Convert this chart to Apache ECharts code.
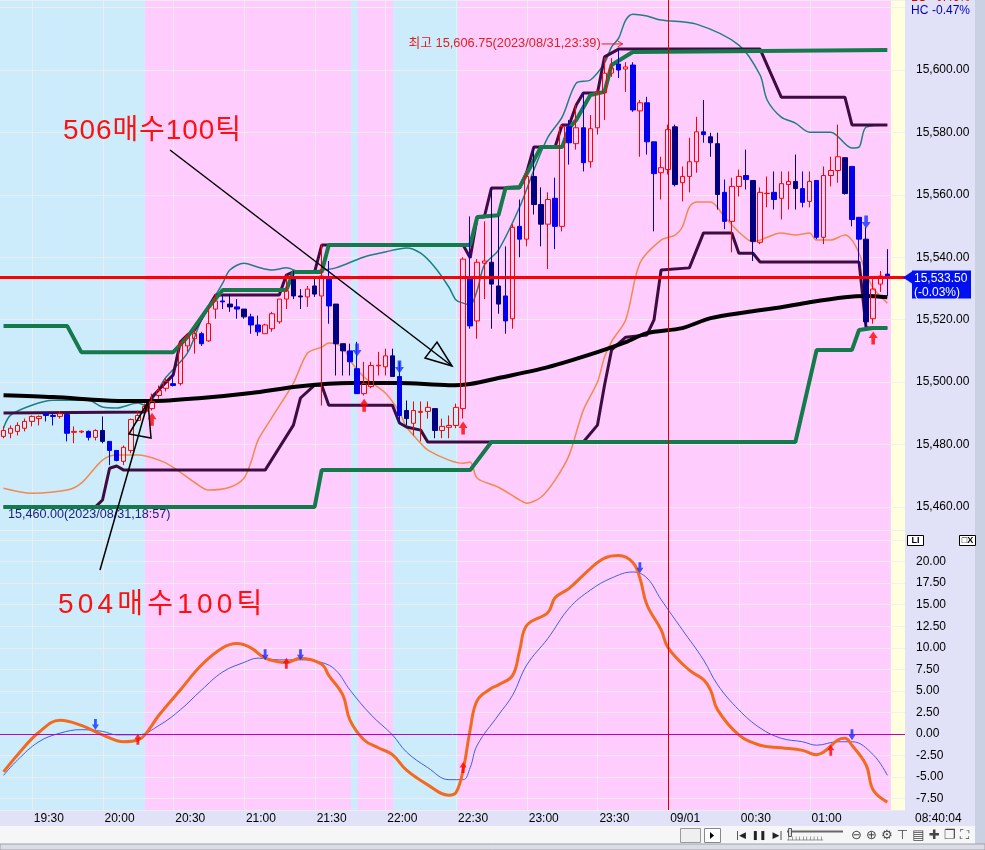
<!DOCTYPE html>
<html>
<head>
<meta charset="utf-8">
<script src="https://cdn.jsdelivr.net/npm/echarts@6.0.0/dist/echarts.min.js"></script>
<style>
html,body{margin:0;padding:0;background:#fff;}
#c{width:985px;height:850px;background:#e1e1f7;}
</style>
</head>
<body>
<div id="c"></div>
<script>
// ================= DATA =================
const startMinute = 19 * 60 + 18, barMinutes = 3, slotCount = 128;
const categories = [];
for (let k = 0; k < slotCount; k++) {
  const m = (startMinute + barMinutes * k) % 1440;
  categories.push(String(Math.floor(m / 60)).padStart(2, '0') + ':' + String(m % 60).padStart(2, '0'));
}
const xTickLabels = ['19:30','20:00','20:30','21:00','21:30','22:00','22:30','23:00','23:30','00:00','00:30','01:00'];
const dateLabels = { '00:00': '09/01' };

// [open, close, low, high]
const candles = [
[15482.6,15484.5,15482.0,15485.8],[15483.6,15485.2,15482.0,15486.1],[15484.2,15486.1,15482.9,15487.1],[15485.2,15487.4,15484.2,15488.3],
[15487.4,15489.0,15485.8,15489.3],[15488.3,15489.0,15486.1,15489.3],[15489.9,15489.3,15487.4,15490.2],[15489.3,15489.0,15486.1,15489.9],
[15489.0,15489.9,15488.3,15490.6],[15489.6,15483.6,15481.0,15489.9],[15483.9,15484.2,15480.4,15485.8],[15484.0,15484.25,15483.6,15484.5],
[15484.2,15482.3,15481.3,15484.5],[15482.3,15484.5,15481.3,15484.9],[15484.5,15481.0,15480.4,15489.0],[15481.0,15478.1,15473.4,15481.0],
[15478.1,15474.9,15474.6,15478.1],[15474.6,15479.1,15473.4,15479.7],[15478.1,15488.0,15477.2,15488.3],[15487.7,15489.3,15487.4,15490.9],
[15490.6,15492.2,15489.9,15493.1],[15491.5,15493.8,15490.9,15496.3],[15495.7,15497.3,15494.7,15498.9],[15498.0,15500.2,15497.0,15501.1],
[15499.5,15498.9,15498.6,15502.7],[15499.5,15512.3,15498.9,15513.2],[15511.6,15514.8,15509.7,15515.5],[15513.9,15515.5,15509.1,15517.1],
[15515.5,15512.3,15511.6,15516.1],[15513.2,15518.7,15512.9,15524.4],[15523.4,15526.0,15520.3,15528.2],[15526.0,15525.7,15523.4,15527.6],
[15525.0,15524.1,15522.5,15528.2],[15524.1,15523.4,15520.3,15526.6],[15523.4,15520.9,15520.3,15523.4],[15520.9,15518.3,15515.5,15521.9],
[15518.3,15516.1,15514.8,15521.3],[15515.5,15518.3,15515.5,15518.7],[15517.1,15521.9,15516.1,15522.5],[15519.3,15526.6,15518.7,15526.6],
[15526.6,15529.2,15523.4,15534.6],[15533.0,15527.6,15526.6,15535.6],[15527.6,15527.3,15523.4,15529.8],[15527.3,15529.8,15524.1,15530.8],
[15530.8,15528.2,15527.3,15533.0],[15527.6,15534.0,15492.5,15544.2],[15533.6,15524.4,15518.7,15538.8],[15525.0,15512.3,15502.1,15525.0],
[15512.3,15510.0,15502.1,15512.3],[15510.0,15506.5,15502.1,15512.3],[15504.3,15496.3,15496.3,15512.9],[15496.3,15499.5,15495.7,15506.5],
[15498.6,15505.3,15498.0,15506.5],[15505.2,15505.4,15502.1,15509.7],[15504.9,15508.4,15502.1,15510.7],[15508.4,15501.8,15501.8,15510.7],
[15501.8,15489.3,15487.4,15506.5],[15490.9,15488.3,15486.1,15494.1],[15486.8,15490.9,15482.9,15493.8],[15490.3,15490.6,15481.0,15493.8],
[15490.6,15491.9,15488.3,15493.8],[15491.5,15484.5,15482.0,15491.5],[15484.5,15485.8,15482.0,15488.3],[15485.5,15486.1,15482.0,15489.3],
[15486.1,15491.9,15485.2,15493.1],[15491.5,15539.4,15488.3,15540.0],[15533.0,15518.0,15517.1,15553.1],[15519.6,15538.4,15513.9,15539.4],
[15538.1,15538.8,15526.6,15551.5],[15538.4,15531.4,15517.1,15562.4],[15530.8,15525.0,15521.9,15553.1],[15527.6,15519.6,15515.5,15543.5],
[15520.3,15549.6,15517.1,15550.6],[15549.9,15545.8,15540.0,15558.5],[15545.8,15565.9,15543.5,15567.5],[15565.9,15556.9,15553.7,15575.4],
[15556.9,15550.6,15543.5,15562.4],[15550.6,15558.5,15536.2,15560.8],[15558.9,15549.9,15542.6,15565.5],[15549.9,15581.8,15548.3,15582.5],
[15581.8,15576.7,15569.7,15584.0],[15576.4,15581.5,15574.5,15588.8],[15581.5,15570.3,15567.5,15592.7],[15570.6,15581.2,15568.7,15585.6],
[15581.5,15593.0,15579.3,15593.6],[15592.7,15599.0,15584.0,15604.1],[15599.0,15600.6,15597.8,15603.8],[15601.9,15600.0,15597.4,15606.75],
[15600.3,15601.0,15593.0,15602.5],[15601.6,15587.2,15586.6,15602.5],[15586.9,15589.5,15572.2,15590.4],[15589.5,15577.0,15572.9,15591.4],
[15577.0,15566.8,15548.3,15577.0],[15567.1,15568.7,15558.5,15572.2],[15568.1,15580.9,15566.5,15582.5],[15581.8,15563.3,15562.7,15582.5],
[15563.9,15565.9,15557.9,15569.1],[15565.9,15570.6,15560.8,15578.3],[15570.6,15580.2,15567.1,15585.0],[15580.2,15579.3,15576.7,15590.4],
[15578.6,15576.7,15572.2,15579.9],[15576.4,15560.1,15555.3,15579.9],[15560.8,15551.5,15549.0,15564.9],[15551.5,15562.7,15541.6,15565.5],
[15562.7,15565.9,15559.5,15568.1],[15566.2,15564.9,15561.7,15574.5],[15564.6,15545.1,15538.8,15564.6],[15544.8,15560.8,15544.2,15562.4],
[15560.4,15560.5,15556.0,15565.9],[15560.8,15558.5,15555.3,15567.5],[15558.9,15563.6,15552.1,15567.5],[15563.3,15564.3,15555.3,15567.5],
[15564.3,15562.0,15555.3,15572.9],[15562.0,15557.6,15556.0,15567.5],[15557.9,15564.3,15556.0,15567.5],[15564.6,15546.4,15545.8,15564.6],
[15546.4,15566.2,15544.2,15569.1],[15566.2,15567.8,15562.7,15572.2],[15567.8,15572.2,15563.9,15582.5],[15571.9,15560.4,15560.1,15571.9],
[15569.1,15552.1,15549.9,15569.1],[15552.8,15545.8,15537.2,15552.8],[15545.8,15519.3,15517.7,15549.6],[15520.3,15529.8,15518.7,15533.0],
[15531.4,15534.0,15528.9,15535.6],[15534.6,15533.5,15527.6,15542.6]
];
const navyBars = [14,32,34,41,42,44,47,48,55,57,61,69,70,75,76,95,100,101,106,112,119,122];

// overlay lines: [barIndex, price]
const blackMA = [[0,15495.8],[7,15495.2],[14,15494.2],[18,15493.9],[21,15493.9],[28,15494.9],[35,15496.5],[42,15498.7],[49,15499.7],[56,15499.7],[63,15499.0],[66,15499.4],[70,15501.3],[77,15504.8],[84,15509.6],[88,15512.8],[91,15515.7],[96,15517.3],[100,15520.5],[105,15522.4],[110,15524.0],[114,15525.6],[119,15527.2],[122,15527.6],[125,15527.2]];
const greenUpper = [[0,15518],[9,15518],[11,15509.6],[24,15509.6],[26,15514.4],[29,15524],[31,15529.5],[40,15529.5],[41,15535.3],[45,15535.3],[46,15543.9],[66,15543.9],[67,15552.9],[70,15553.5],[71,15562.2],[73,15562.5],[76,15575.3],[79,15575.3],[80,15581.4],[81,15584],[83,15592],[85,15593],[86,15601.6],[89,15605.8],[125,15606.4]];
const greenLower = [[0,15460],[44,15460],[45,15471.8],[66,15471.8],[69,15480.8],[112,15480.8],[115,15510.3],[120,15510.3],[121,15516.7],[123,15517.3],[125,15517.3]];
const purpleUpper = [[0,15490.1],[20,15490.4],[21,15495.2],[23,15500],[24,15502.3],[25,15512.8],[26,15515.1],[27,15516.7],[29,15524.1],[30,15527.9],[39,15527.9],[40,15534.3],[41,15535.3],[44,15535.3],[45,15543.9],[65,15543.9],[66,15539.8],[67,15552.9],[68,15552.9],[69,15562.2],[73,15562.2],[74,15567.3],[75,15575.3],[78,15575.3],[79,15582.4],[80,15582.4],[81,15588.8],[82,15592.6],[84,15592.6],[85,15604.2],[87,15606.7],[107,15606.7],[110,15591.3],[119,15591.3],[120,15582.4],[125,15582.4]];
const purpleLower = [[0,15460],[13,15460],[14,15462.2],[15,15472.4],[16,15473.1],[17,15471.8],[37,15471.8],[41,15486.2],[42,15494.9],[44,15499],[45,15499],[46,15492.6],[55,15492.6],[56,15486.9],[57,15485.6],[59,15484.6],[60,15480.8],[82,15480.8],[84,15486.2],[85,15499],[86,15510.3],[88,15514.4],[91,15515.1],[92,15519.9],[93,15535.9],[97,15536.6],[99,15547.8],[103,15547.8],[104,15541.3],[106,15541.3],[107,15538.5],[121,15538.5],[122,15517.3],[125,15517.3]];
const bandUpper = [[0,15485.3],[1,15489.4],[4,15492.6],[7,15494.2],[12,15494.2],[14,15492.0],[16,15491.7],[19,15493.3],[20,15492.6],[23,15501.6],[26,15509.3],[28,15519.9],[31,15531.7],[32,15535.9],[34,15538.1],[36,15536.8],[38,15535.9],[40,15536.6],[42,15535.3],[45,15535.9],[47,15536.6],[51,15540.1],[54,15541.7],[57,15543.0],[59,15541.3],[61,15536.8],[63,15530.4],[64,15526.3],[65,15525.3],[66,15524.7],[67,15529.5],[68,15537.5],[70,15542.3],[73,15556.1],[75,15567.9],[77,15578.5],[79,15584.9],[81,15595.8],[83,15596.8],[85,15602.2],[86,15607.4],[87,15610.2],[88,15616.0],[89,15617.9],[91,15617.3],[93,15616.0],[98,15614.7],[104,15608.0],[107,15598.4],[108,15590.4],[110,15584.9],[112,15583.0],[114,15580.1],[117,15580.1],[120,15575.0],[121,15575.3],[122,15581.7],[125,15582.4]];
const bandLower = [[0,15466.0],[4,15464.4],[9,15465.4],[11,15467.6],[14,15475.0],[16,15476.6],[19,15476.6],[22,15475.0],[24,15472.7],[27,15467.9],[29,15465.4],[32,15466.3],[34,15469.2],[35,15474.4],[36,15481.4],[38,15488.8],[41,15499.7],[43,15509.3],[45,15511.2],[46,15512.5],[48,15511.2],[49,15507.0],[51,15501.6],[54,15496.5],[56,15490.4],[57,15485.6],[59,15480.4],[60,15478.2],[63,15475.0],[65,15474.0],[66,15474.4],[67,15469.2],[70,15466.3],[73,15462.2],[74,15461.2],[76,15463.1],[78,15468.6],[80,15476.6],[82,15491.0],[84,15500.0],[85,15508.0],[86,15513.0],[88,15520.0],[90,15538.1],[93,15545.5],[95,15547.1],[96,15549.7],[97,15556.1],[98,15557.7],[100,15557.7],[102,15552.9],[104,15548.1],[106,15544.9],[107,15545.5],[110,15547.8],[112,15547.1],[114,15547.8],[115,15545.5],[117,15545.5],[119,15547.1],[120,15545.5],[121,15541.3],[122,15534.9],[123,15530.1],[125,15525.3]];

const buySignals = [[21,15488.1],[51,15492.6],[65,15485.3],[123,15514.1]];
const sellSignals = [[50,15510.3],[56,15504.8],[122,15551.3]];

// oscillator: [barIndex, value]
const oscMain = [[0,-4.4],[2,-2.4],[5,0.2],[8,1.6],[11,1.0],[14,-0.1],[17,-0.9],[19,-0.7],[20,-0.1],[22,2.2],[25,5.1],[28,8.0],[31,10.0],[33,10.5],[35,10.0],[37,8.8],[40,8.3],[42,8.8],[45,8.1],[46,6.8],[48,4.5],[49,1.6],[51,-0.7],[53,-1.6],[55,-2.4],[57,-4.2],[60,-5.9],[63,-7.1],[64,-6.8],[65,-4.2],[66,0.5],[67,3.9],[69,5.3],[70,5.7],[72,6.8],[73,9.7],[74,12.6],[77,14.1],[78,15.8],[80,16.9],[83,19.2],[85,20.4],[87,20.7],[89,19.9],[90,18.1],[91,15.0],[93,12.1],[94,10.0],[97,7.4],[99,6.3],[100,5.1],[101,2.8],[104,-0.1],[107,-1.3],[110,-1.6],[113,-1.9],[115,-2.4],[116,-2.1],[118,-0.7],[119,-0.5],[120,-1.3],[122,-3.6],[123,-6.5],[125,-7.9]];
const oscSignal = [[0,-4.8],[2,-3.0],[5,-0.9],[8,0.1],[11,0.5],[14,0.3],[16,-0.1],[19,-0.1],[22,1.0],[25,2.8],[28,5.1],[31,7.2],[34,8.3],[36,8.8],[39,8.6],[42,8.6],[45,8.3],[47,7.4],[49,5.1],[52,2.2],[55,-0.1],[57,-2.1],[60,-3.9],[63,-5.3],[65,-5.3],[66,-3.9],[67,-1.3],[70,2.2],[72,4.5],[74,8.0],[77,11.1],[80,14.6],[83,16.7],[86,18.1],[89,18.8],[91,18.1],[93,15.6],[96,12.1],[99,8.6],[101,5.7],[104,2.8],[107,0.7],[110,-0.5],[113,-0.9],[115,-1.3],[118,-0.9],[120,-0.9],[123,-2.4],[125,-4.8]];
const oscSell = [[13,1.1],[37,9.2],[42,9.2],[90,19.3],[120,-0.1]];
const oscBuy = [[19,-0.6],[40,8.2],[65,-3.9],[117,-1.9]];

const lastPrice = 15533.5, lastChange = '(-0.03%)';
const highBar = 87, highPrice = 15606.75, highText = '최고 15,606.75(2023/08/31,23:39)';
const lowPrice = 15460, lowText = '15,460.00(2023/08/31,18:57)';
const note1 = '506매수100틱', note2 = '504매수100틱';

// session shading (bar index ranges, fractional = position inside bar)
const sessions = [
  { from: -0.5, to: 20, color: '#ccecfc' },
  { from: 20, to: 49.15, color: '#fecdfe' },
  { from: 49.15, to: 50.1, color: '#ccecfc' },
  { from: 50.1, to: 55.1, color: '#fecdfe' },
  { from: 55.1, to: 64.3, color: '#ccecfc' },
  { from: 64.3, to: 125.5, color: '#fecdfe' },
  { from: 125.5, to: 127.5, color: '#ffffe0' }
];

// ================= CHART =================
const FONT = '"Liberation Sans", Arial, sans-serif';
const KFONT = '"Liberation Sans", "Noto Sans CJK KR", sans-serif';
const chart = echarts.init(document.getElementById('c'), null, { renderer: 'canvas', width: 985, height: 850 });

function fmtPrice(v) {
  if (Math.abs(v / 20 - Math.round(v / 20)) > 1e-6) return '';
  const s = v.toFixed(2).split('.');
  return s[0].replace(/\B(?=(\d{3})+(?!\d))/g, ',') + '.' + s[1];
}
function fmtOsc(v) {
  if (v > 21 || Math.abs(v / 2.5 - Math.round(v / 2.5)) > 1e-6) return '';
  return v.toFixed(2);
}
function sessionRender(params, api) {
  const s = sessions[params.dataIndex];
  const cs = params.coordSys;
  const yv = api.value(1);
  const bw = api.coord([1, yv])[0] - api.coord([0, yv])[0];
  const xAt = v => {
    const f = Math.min(slotCount - 1, Math.max(0, Math.floor(v)));
    return api.coord([f, yv])[0] + (v - f) * bw;
  };
  const x0 = xAt(s.from), x1 = xAt(s.to);
  return { type: 'rect', shape: { x: x0, y: cs.y, width: x1 - x0, height: cs.height }, style: { fill: s.color } };
}
function vgridRender(params, api) {
  const cs = params.coordSys;
  const x = Math.round(api.coord([api.value(0), api.value(1)])[0]) + 0.5;
  return { type: 'line', shape: { x1: x, y1: cs.y, x2: x, y2: cs.y + cs.height }, style: { stroke: 'rgba(238,238,238,0.85)', lineWidth: 1 } };
}
const downArrow = 'path://M3,0L7,0L7,6L10,6L5,12L0,6L3,6Z';
const upArrow = 'path://M5,0L10,6L7,6L7,12L3,12L3,6L0,6Z';

const candleData = candles.map((c, i) => navyBars.includes(i)
  ? { value: c, itemStyle: { color: '#000080', color0: '#000080', borderColor: '#000080', borderColor0: '#000080' } }
  : c);

function mkLine(data, color, width, gi, smooth, z) {
  return { type: 'line', xAxisIndex: gi, yAxisIndex: gi, data: data, symbol: 'none', smooth: smooth || false,
    lineStyle: { color: color, width: width }, z: z || 4, silent: true, animation: false };
}

const option = {
  animation: false,
  grid: [
    { left: 0, top: 0, width: 905, height: 530 },
    { left: 0, top: 530, width: 905, height: 280 }
  ],
  xAxis: [
    { type: 'category', gridIndex: 0, data: categories, boundaryGap: true, show: false },
    { type: 'category', gridIndex: 1, data: categories, boundaryGap: true,
      axisLine: { show: false }, axisTick: { show: false }, splitLine: { show: false },
      axisLabel: { interval: (i, v) => xTickLabels.includes(v), formatter: v => dateLabels[v] || v,
        align: 'left', margin: 3, padding: [0, 0, 0, 2], color: '#000', fontSize: 12, fontFamily: FONT } }
  ],
  yAxis: [
    { type: 'value', gridIndex: 0, position: 'right', min: 15452.6, max: 15622.44,
      minInterval: 20, maxInterval: 20, splitNumber: 8,
      axisLine: { show: false }, axisTick: { show: false },
      splitLine: { show: true, lineStyle: { color: 'rgba(238,238,238,0.85)', width: 1 } },
      axisLabel: { margin: 11, showMinLabel: false, showMaxLabel: false, formatter: fmtPrice, color: '#000', fontSize: 12, fontFamily: FONT } },
    { type: 'value', gridIndex: 1, position: 'right', min: -8.82, max: 23.67,
      minInterval: 2.5, maxInterval: 2.5, splitNumber: 12,
      axisLine: { show: false }, axisTick: { show: false },
      splitLine: { show: true, lineStyle: { color: 'rgba(238,238,238,0.85)', width: 1 } },
      axisLabel: { margin: 11, showMinLabel: false, showMaxLabel: false, formatter: fmtOsc, color: '#000', fontSize: 12, fontFamily: FONT } }
  ],
  series: [
    { type: 'custom', xAxisIndex: 0, yAxisIndex: 0, z: -2, silent: true, renderItem: sessionRender,
      data: sessions.map((s, i) => [i, 15500]) },
    { type: 'custom', xAxisIndex: 1, yAxisIndex: 1, z: -2, silent: true, renderItem: sessionRender,
      data: sessions.map((s, i) => [i, 0]) },
    { type: 'custom', xAxisIndex: 0, yAxisIndex: 0, z: -1, silent: true, renderItem: vgridRender,
      data: xTickLabels.map(t => [t, 15500]) },
    { type: 'custom', xAxisIndex: 1, yAxisIndex: 1, z: -1, silent: true, renderItem: vgridRender,
      data: xTickLabels.map(t => [t, 0]) },

    mkLine(bandLower, '#f2894e', 1.5, 0, 0.3, 3),
    mkLine(bandUpper, '#1d7f80', 1.5, 0, 0.3, 3),
    mkLine(purpleLower, '#3e0c40', 3, 0, false, 3),
    mkLine(purpleUpper, '#3e0c40', 3, 0, false, 3),
    mkLine(greenLower, '#157a4b', 4, 0, false, 3),
    mkLine(greenUpper, '#157a4b', 4, 0, false, 3),
    mkLine(blackMA, '#000000', 4, 0, 0.3, 3),

    { type: 'candlestick', xAxisIndex: 0, yAxisIndex: 0, barWidth: 5, z: 4, silent: true, data: candleData,
      itemStyle: { color: 'rgba(0,0,0,0)', color0: '#0000ee', borderColor: '#ff0000', borderColor0: '#0000ee', borderWidth: 1 },
      markLine: { silent: true, symbol: ['none', 'none'], label: { show: false }, animation: false,
        data: [
          { yAxis: lastPrice, lineStyle: { color: '#ff0000', width: 3, type: 'solid' } },
          { xAxis: '00:00', lineStyle: { color: '#e00000', width: 1, type: 'solid' } }
        ] } },

    { type: 'scatter', xAxisIndex: 0, yAxisIndex: 0, data: buySignals, symbol: upArrow, symbolSize: [9, 13],
      itemStyle: { color: '#ff0000' }, z: 6, silent: true },
    { type: 'scatter', xAxisIndex: 0, yAxisIndex: 0, data: sellSignals, symbol: downArrow, symbolSize: [9, 13],
      itemStyle: { color: '#1030ff' }, z: 6, silent: true },

    mkLine(oscSignal, '#3f5fe0', 1, 1, 0.4, 3),
    Object.assign(mkLine(oscMain, '#f26a1e', 3, 1, 0.4, 4), {
      markLine: { silent: true, symbol: ['none', 'none'], label: { show: false }, animation: false,
        data: [
          { yAxis: 0, lineStyle: { color: '#c000c0', width: 1, type: 'solid' } },
          { xAxis: '00:00', lineStyle: { color: '#e00000', width: 1, type: 'solid' } }
        ] } }),
    { type: 'scatter', xAxisIndex: 1, yAxisIndex: 1, data: oscBuy, symbol: upArrow, symbolSize: [7, 11],
      itemStyle: { color: '#ff0000' }, z: 6, silent: true },
    { type: 'scatter', xAxisIndex: 1, yAxisIndex: 1, data: oscSell, symbol: downArrow, symbolSize: [7, 11],
      itemStyle: { color: '#1030ff' }, z: 6, silent: true }
  ]
};
chart.setOption(option);

// ---------- annotations ----------
const pHigh = chart.convertToPixel({ xAxisIndex: 0, yAxisIndex: 0 }, [highBar, highPrice]);
const pLast = chart.convertToPixel({ xAxisIndex: 0, yAxisIndex: 0 }, [125, lastPrice]);
const pLow = chart.convertToPixel({ xAxisIndex: 0, yAxisIndex: 0 }, [0, lowPrice]);
const tipX = pHigh[0] + 4, hy = pHigh[1] - 5;
const lastLabel = lastPrice.toFixed(2).replace(/\B(?=(\d{3})+(?!\d))/, ',');

const measureCtx = document.createElement('canvas').getContext('2d');
function spacedText(str, x, y, font, fill, spacing) {
  measureCtx.font = font;
  const out = [];
  let cx = x;
  for (const ch of str) {
    out.push({ type: 'text', style: { x: cx, y: y, text: ch, font: font, fill: fill, verticalAlign: 'middle' }, z: 53 });
    cx += measureCtx.measureText(ch).width + spacing;
  }
  return out;
}

const graphics = [
  // right border strip & toolbar
  { type: 'rect', shape: { x: 975, y: 0, width: 10, height: 850 }, style: { fill: '#c9d1e3' }, z: 50 },
  { type: 'rect', shape: { x: 0, y: 826, width: 975, height: 18 }, style: { fill: '#f6f6f6' }, z: 50 },
  { type: 'rect', shape: { x: 0, y: 844, width: 985, height: 6 }, style: { fill: '#dcdce6', stroke: '#a0a0a8', lineWidth: 1 }, z: 50 },
  { type: 'rect', shape: { x: 680.5, y: 828.5, width: 20, height: 14 }, style: { fill: '#efefef', stroke: '#999' }, z: 51 },
  { type: 'rect', shape: { x: 704.5, y: 828.5, width: 16, height: 14 }, style: { fill: '#fff', stroke: '#888' }, z: 51 },
  { type: 'polygon', shape: { points: [[710, 832], [710, 839], [714, 835.5]] }, style: { fill: '#000' }, z: 52 },
  { type: 'text', style: { x: 736, y: 836, text: '|◀  ❚❚  ▶|', font: '9px "DejaVu Sans"', fill: '#222', verticalAlign: 'middle' }, z: 52 },
  { type: 'line', shape: { x1: 787, y1: 831.5, x2: 843, y2: 831.5 }, style: { stroke: '#666', lineWidth: 2 }, z: 52 },
  { type: 'rect', shape: { x: 788.5, y: 828.5, width: 3, height: 8 }, style: { fill: '#ddd', stroke: '#555' }, z: 53 },
  { type: 'text', style: { x: 787, y: 840, text: '┴┴┴┴┴┴┴┴┴┴', font: '6px "DejaVu Sans"', fill: '#444', verticalAlign: 'middle' }, z: 52 },
  { type: 'text', style: { x: 851, y: 836, text: '⊖ ⊕ ⚙ ⊤ ▤ ✚ ❐ ⛶', font: '13px "DejaVu Sans"', fill: '#444', verticalAlign: 'middle' }, z: 52 },
  // time stamp
  { type: 'text', style: { x: 915, y: 819, text: '08:40:04', font: '12px ' + FONT, fill: '#000', verticalAlign: 'middle' }, z: 52 },
  // top right LC/HC
  { type: 'rect', shape: { x: 906, y: 0, width: 68, height: 20 }, style: { fill: '#e1e1f7' }, z: 52 },
  { type: 'text', style: { x: 911, y: -2, text: 'LC', font: '12px ' + FONT, fill: '#e00000', verticalAlign: 'middle' }, z: 53 },
  { type: 'text', style: { x: 970, y: -2, text: '0.46%', font: '12px ' + FONT, fill: '#e00000', align: 'right', verticalAlign: 'middle' }, z: 53 },
  { type: 'text', style: { x: 911, y: 11, text: 'HC', font: '12px ' + FONT, fill: '#0000c0', verticalAlign: 'middle' }, z: 53 },
  { type: 'text', style: { x: 970, y: 11, text: '-0.47%', font: '12px ' + FONT, fill: '#0000c0', align: 'right', verticalAlign: 'middle' }, z: 53 },
  // oscillator header icons
  { type: 'rect', shape: { x: 907.5, y: 535.5, width: 16, height: 10 }, style: { fill: '#fff', stroke: '#000' }, z: 52 },
  { type: 'text', style: { x: 915.5, y: 541, text: 'LI', font: 'bold 9px ' + FONT, fill: '#000', align: 'center', verticalAlign: 'middle' }, z: 53 },
  { type: 'rect', shape: { x: 959.5, y: 535.5, width: 16, height: 10 }, style: { fill: '#fff', stroke: '#000' }, z: 52 },
  { type: 'text', style: { x: 967.5, y: 541, text: '□X', font: 'bold 9px ' + FONT, fill: '#000', align: 'center', verticalAlign: 'middle' }, z: 53 },
  // current price tag
  { type: 'polygon', shape: { points: [[903, pLast[1]], [912, pLast[1] - 6], [912, pLast[1] + 6]] }, style: { fill: '#0010f0' }, z: 52 },
  { type: 'rect', shape: { x: 912, y: pLast[1] - 7, width: 59, height: 28 }, style: { fill: '#0010f0' }, z: 52 },
  { type: 'text', style: { x: 914, y: pLast[1] + 1, text: lastLabel, font: '12px ' + FONT, fill: '#fff', verticalAlign: 'middle' }, z: 53 },
  { type: 'text', style: { x: 914, y: pLast[1] + 15, text: lastChange, font: '12px ' + FONT, fill: '#fff', verticalAlign: 'middle' }, z: 53 },
  // high / low labels
  { type: 'text', style: { x: tipX - 22, y: hy, text: highText, font: '12.8px ' + KFONT, fill: '#e02020', align: 'right', verticalAlign: 'middle' }, z: 53 },
  { type: 'line', shape: { x1: tipX - 21, y1: hy, x2: tipX, y2: hy }, style: { stroke: '#e02020', lineWidth: 1 }, z: 53 },
  { type: 'polyline', shape: { points: [[tipX - 5, hy - 3], [tipX, hy], [tipX - 5, hy + 3]] }, style: { stroke: '#e02020', lineWidth: 1, fill: null }, z: 53 },
  { type: 'text', style: { x: 8, y: pLow[1] + 8, text: lowText, font: '12.6px ' + FONT, fill: '#202080', verticalAlign: 'middle' }, z: 53 },
  // hand-drawn annotations
  { type: 'line', shape: { x1: 170, y1: 150, x2: 452, y2: 366 }, style: { stroke: '#000', lineWidth: 1.5 }, z: 53 },
  { type: 'polygon', shape: { points: [[452, 366], [425, 358], [437, 342]] }, style: { stroke: '#000', lineWidth: 1.5, fill: null }, z: 53 },
  { type: 'line', shape: { x1: 100, y1: 570, x2: 148, y2: 402 }, style: { stroke: '#000', lineWidth: 1.5 }, z: 53 },
  { type: 'polygon', shape: { points: [[148, 402], [129, 434], [151, 438]] }, style: { stroke: '#000', lineWidth: 1.5, fill: null }, z: 53 }
].concat(
  spacedText(note1, 63, 131, '28px ' + KFONT, '#ff1010', 0.9),
  spacedText(note2, 58, 605, '28px ' + KFONT, '#ff1010', 4.2)
);
chart.setOption({ graphic: graphics });
</script>
</body>
</html>
